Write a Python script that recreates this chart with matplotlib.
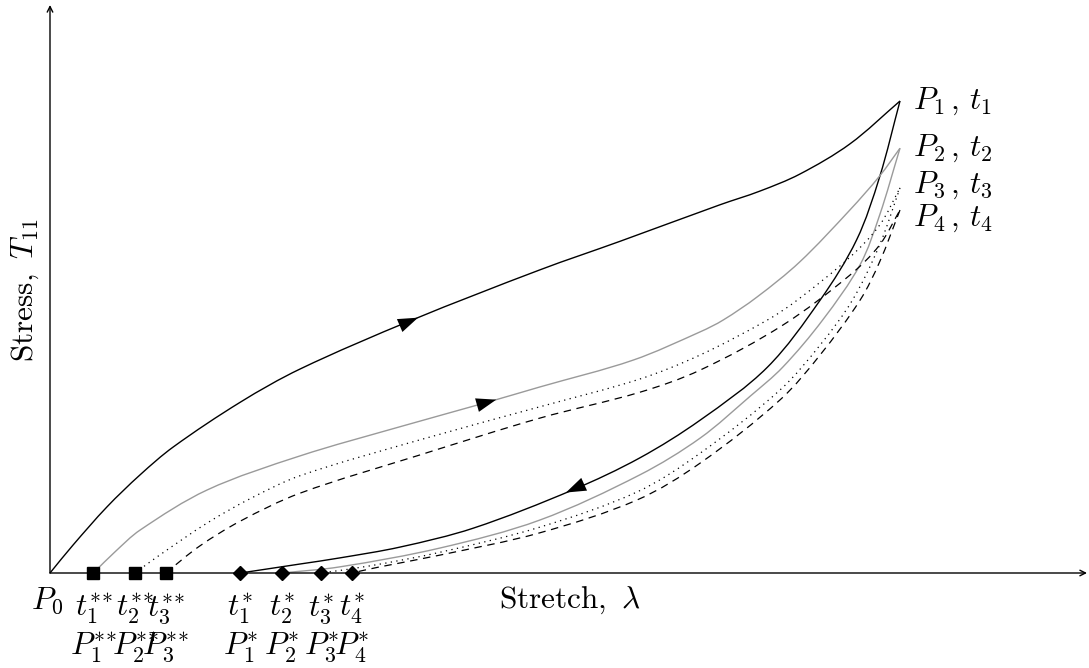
import numpy as np
import matplotlib.pyplot as plt
from matplotlib.path import Path
from matplotlib.patches import PathPatch

plt.rcParams['mathtext.fontset'] = 'cm'
plt.rcParams['font.family'] = 'serif'

# loading / unloading paths (stretch, stress)
lam_load1 = [1.000, 1.027, 1.067, 1.106, 1.145, 1.224, 1.294, 1.426, 1.576, 1.671, 1.788, 1.835, 1.882, 1.941, 2.000]
T_load1 = [0.000, 0.059, 0.140, 0.208, 0.267, 0.362, 0.432, 0.536, 0.642, 0.703, 0.780, 0.809, 0.845, 0.909, 1.000]
lam_unl1 = [2.000, 1.976, 1.949, 1.906, 1.844, 1.765, 1.694, 1.615, 1.498, 1.412, 1.341, 1.294, 1.224]
T_unl1 = [1.000, 0.839, 0.706, 0.578, 0.436, 0.324, 0.244, 0.176, 0.095, 0.055, 0.032, 0.019, 0.000]

lam_load2 = [1.051, 1.076, 1.106, 1.185, 1.294, 1.412, 1.515, 1.576, 1.686, 1.765, 1.792, 1.832, 1.882, 1.941, 1.976, 2.000]
T_load2 = [0.000, 0.044, 0.091, 0.176, 0.248, 0.310, 0.362, 0.394, 0.451, 0.511, 0.536, 0.585, 0.659, 0.769, 0.841, 0.900]
lam_unl2 = [2.000, 1.976, 1.953, 1.909, 1.862, 1.824, 1.765, 1.694, 1.576, 1.459, 1.341, 1.273]
T_unl2 = [0.900, 0.758, 0.653, 0.536, 0.436, 0.375, 0.286, 0.208, 0.112, 0.053, 0.013, 0.000]

lam_load3 = [1.100, 1.129, 1.185, 1.235, 1.294, 1.435, 1.576, 1.694, 1.765, 1.844, 1.879, 1.941, 1.976, 2.000]
T_load3 = [0.000, 0.038, 0.106, 0.157, 0.206, 0.282, 0.352, 0.411, 0.462, 0.536, 0.578, 0.669, 0.737, 0.816]
lam_unl3 = [2.000, 1.976, 1.944, 1.906, 1.859, 1.765, 1.691, 1.576, 1.459, 1.376, 1.319]
T_unl3 = [0.816, 0.695, 0.578, 0.483, 0.388, 0.254, 0.172, 0.097, 0.044, 0.015, 0.000]

lam_load4 = [1.136, 1.176, 1.224, 1.294, 1.435, 1.576, 1.694, 1.765, 1.862, 1.941, 1.976, 2.000]
T_load4 = [0.000, 0.057, 0.110, 0.169, 0.250, 0.328, 0.383, 0.430, 0.525, 0.631, 0.695, 0.769]
lam_unl4 = [2.000, 1.976, 1.953, 1.906, 1.859, 1.765, 1.691, 1.576, 1.459, 1.388, 1.355]
T_unl4 = [0.769, 0.659, 0.578, 0.462, 0.367, 0.233, 0.155, 0.085, 0.038, 0.013, 0.000]

# residual stretches
lam_sq = [1.051, 1.100, 1.136]
lam_dia = [1.224, 1.273, 1.319, 1.355]
sq_t = [r'$t_1^{*\!*}$', r'$t_2^{*\!*}$', r'$t_3^{*\!*}$']
sq_P = [r'$P_1^{*\!*}$', r'$P_2^{*\!*}$', r'$P_3^{*\!*}$']
dia_t = [r'$t_1^{*}$', r'$t_2^{*}$', r'$t_3^{*}$', r'$t_4^{*}$']
dia_P = [r'$P_1^{*}$', r'$P_2^{*}$', r'$P_3^{*}$', r'$P_4^{*}$']
end_labels = [r'$P_1\,,\,t_1$', r'$P_2\,,\,t_2$', r'$P_3\,,\,t_3$', r'$P_4\,,\,t_4$']

fig = plt.figure(figsize=(10.89, 6.68), dpi=100)
ax = fig.add_axes([0, 0, 1, 1])
ax.set_xlim(0.94118, 2.22235)
ax.set_ylim(-0.20127, 1.21398)
ax.axis('off')

# axes with arrows
ax.annotate('', xy=(2.22, 0), xytext=(1, 0),
            arrowprops=dict(arrowstyle='->', lw=1, color='black', shrinkA=0, shrinkB=0))
ax.annotate('', xy=(1, 1.2034), xytext=(1, 0),
            arrowprops=dict(arrowstyle='->', lw=1, color='black', shrinkA=0, shrinkB=0))

SX, SY = 850.0, 472.0  # rough pixels per unit, for chord lengths


def smooth(xs, ys, **kw):
    # chord-length Hermite spline through the read points, as cubic Bezier pieces
    p = np.column_stack([np.array(xs) * SX, np.array(ys) * SY])
    n = len(p)
    d = np.linalg.norm(np.diff(p, axis=0), axis=1)
    m = np.zeros_like(p)
    m[0] = (p[1] - p[0]) / d[0]
    m[-1] = (p[-1] - p[-2]) / d[-1]
    for i in range(1, n - 1):
        m[i] = (p[i + 1] - p[i - 1]) / (d[i - 1] + d[i])
    verts = [p[0]]
    codes = [Path.MOVETO]
    for i in range(n - 1):
        verts += [p[i] + m[i] * d[i] / 3, p[i + 1] - m[i + 1] * d[i] / 3, p[i + 1]]
        codes += [Path.CURVE4] * 3
    verts = np.array(verts) / [SX, SY]
    ax.add_patch(PathPatch(Path(verts, codes), fill=False, capstyle='butt', **kw))


styles = [dict(edgecolor='black', lw=1.0, ls='-'),
          dict(edgecolor='#9a9a9a', lw=1.0, ls='-'),
          dict(edgecolor='black', lw=0.9, ls=(0, (1, 3.5))),
          dict(edgecolor='black', lw=0.9, ls=(0, (6, 4.5)))]
paths = [(lam_load1, T_load1, lam_unl1, T_unl1),
         (lam_load2, T_load2, lam_unl2, T_unl2),
         (lam_load3, T_load3, lam_unl3, T_unl3),
         (lam_load4, T_load4, lam_unl4, T_unl4)]
for (la, ta, lu, tu), st in zip(paths, styles):
    smooth(la, ta, **st)
    smooth(lu, tu, **st)


def head(lx, ly, tip, back):
    order = np.argsort(lx)
    xs = np.array(lx)[order]
    ys = np.array(ly)[order]
    ax.annotate('', xy=(tip, np.interp(tip, xs, ys)), xytext=(back, np.interp(back, xs, ys)),
                arrowprops=dict(arrowstyle='-|>,head_length=0.8,head_width=0.28', color='black',
                                lw=0, mutation_scale=18, shrinkA=0, shrinkB=0))


head(lam_load1, T_load1, 1.433, 1.40)
head(lam_load2, T_load2, 1.525, 1.49)
head(lam_unl1, T_unl1, 1.607, 1.64)

ax.plot(lam_sq, [0] * len(lam_sq), 's', color='black', ms=8.5, clip_on=False)
ax.plot(lam_dia, [0] * len(lam_dia), 'D', color='black', ms=7.5, clip_on=False)

fs = 22.5
ax.text(0.997, -0.026, r'$P_0$', ha='center', va='top', fontsize=fs)
for lam, a, b in zip(lam_sq + lam_dia, sq_t + dia_t, sq_P + dia_P):
    ax.text(lam, -0.040, a, ha='center', va='top', fontsize=fs)
    ax.text(lam, -0.121, b, ha='center', va='top', fontsize=fs)

ends = [T_load1[-1], T_load2[-1], T_load3[-1], T_load4[-1]]
shifts = [0, 0, 0.006, -0.017]
for t, s, lab in zip(ends, shifts, end_labels):
    ax.text(2.015, t + s, lab, ha='left', va='center', fontsize=fs)

ax.text(1.612, -0.057, r'$\mathrm{Stretch},\ \lambda$', ha='center', va='center', fontsize=fs)
ax.text(0.9706, 0.5996, r'$\mathrm{Stress},\ T_{11}$', ha='center', va='center',
        rotation=90, fontsize=fs)

fig.savefig('out.png', dpi=100)
